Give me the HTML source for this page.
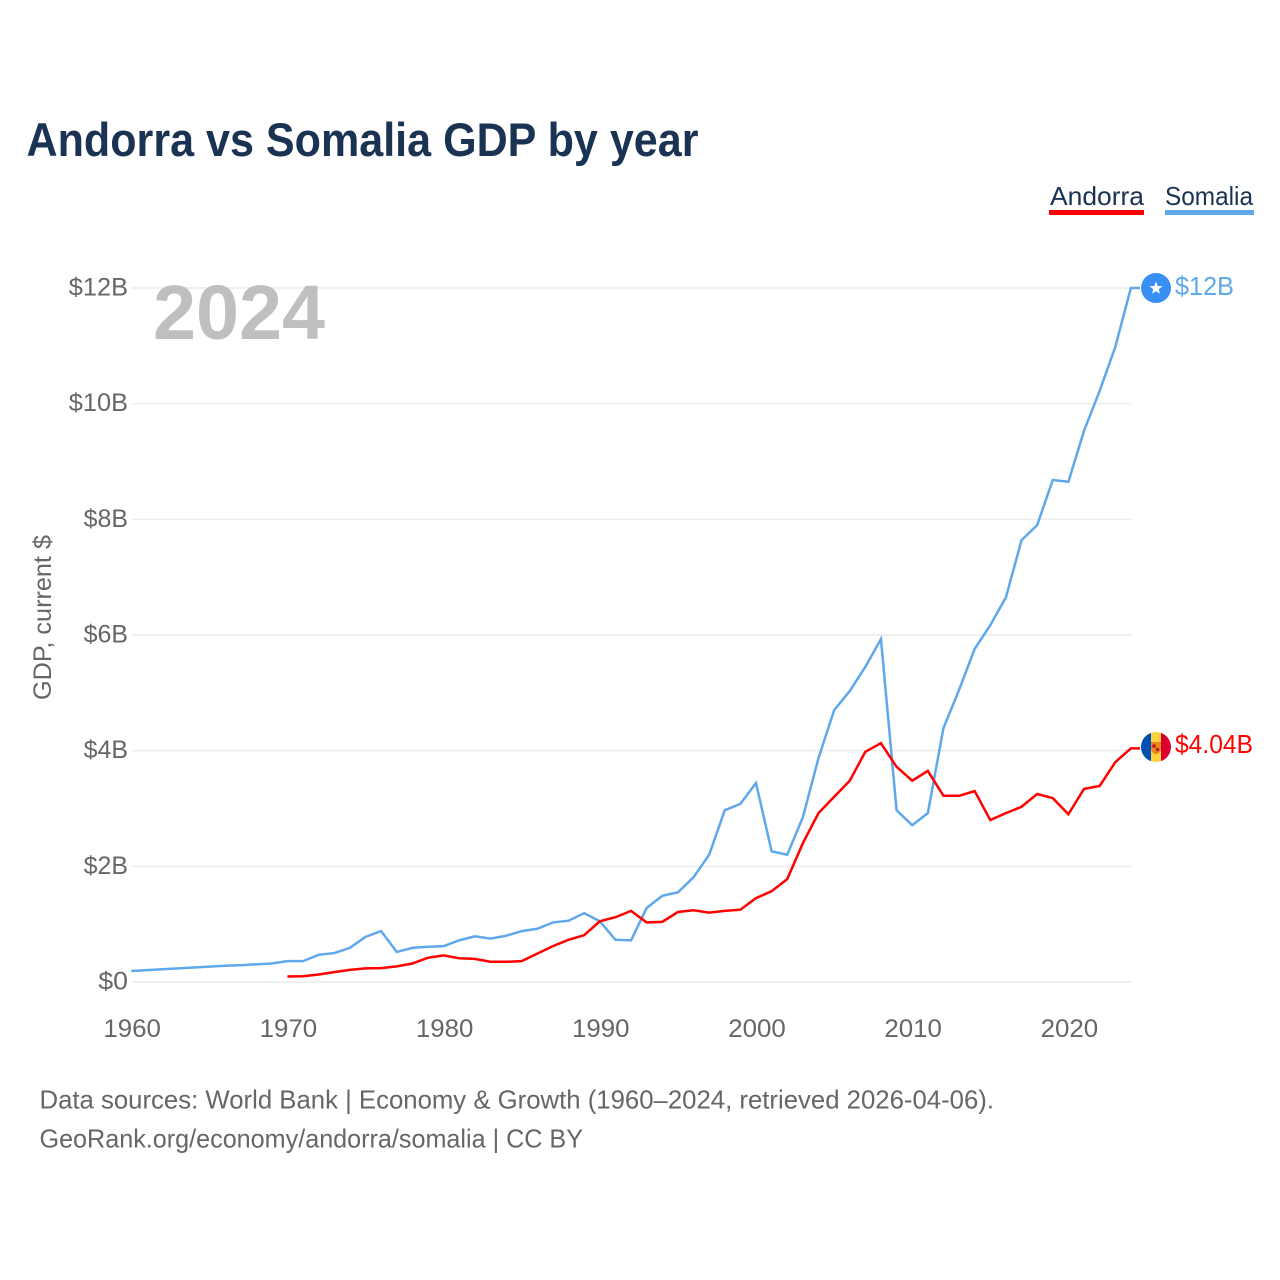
<!DOCTYPE html>
<html lang="en">
<head>
<meta charset="utf-8">
<title>Andorra vs Somalia GDP by year</title>
<style>
  html, body { margin: 0; padding: 0; background: #fff; width: 1280px; height: 1280px; overflow: hidden; }
  svg { display: block; font-family: "Liberation Sans", sans-serif; }
</style>
</head>
<body>
<svg id="chart" xmlns="http://www.w3.org/2000/svg" width="1280" height="1280" viewBox="0 0 1280 1280">
  <defs>
    <clipPath id="flag-clip"><circle cx="1156" cy="747" r="15"></circle></clipPath>
  </defs>
  <text x="26.5" y="156" font-size="47" font-weight="700" fill="#1a3353" textLength="672" lengthAdjust="spacingAndGlyphs">Andorra vs Somalia GDP by year</text>

  <g>
    <g>
      <text x="1050" y="205" font-size="26" fill="#1a3353" textLength="94" lengthAdjust="spacingAndGlyphs">Andorra</text>
      <rect x="1049" y="210" width="95" height="5" fill="#ff0000"></rect>
    </g>
    <g>
      <text x="1165" y="205" font-size="26" fill="#1a3353" textLength="88" lengthAdjust="spacingAndGlyphs">Somalia</text>
      <rect x="1165" y="210" width="89" height="5" fill="#5fa8ec"></rect>
    </g>
  </g>

  <g id="grid"></g>
  <text x="153" y="339" font-size="77" font-weight="700" fill="#bfbfbf" textLength="172" lengthAdjust="spacingAndGlyphs">2024</text>
  <g id="y-ticks"></g>
  <g id="x-ticks"></g>
  <text transform="translate(51,700) rotate(-90)" x="0" y="0" font-size="25" fill="#666666" textLength="165" lengthAdjust="spacingAndGlyphs">GDP, current $</text>

  <g id="series"></g>

  <g>
    <circle cx="1156" cy="288" r="15" fill="#3a8ff2"></circle>
    <polygon fill="#ffffff" points="1156,281.5 1157.7,286 1162.5,286.2 1158.7,289.2 1160,293.8 1156,291.1 1152,293.8 1153.3,289.2 1149.5,286.2 1154.3,286"></polygon>
    <text x="1175" y="295" font-size="26" fill="#5fa8ec" textLength="59" lengthAdjust="spacingAndGlyphs">$12B</text>
  </g>
  <g>
    <g clip-path="url(#flag-clip)">
      <rect x="1141" y="732" width="10" height="30" fill="#0050b4"></rect>
      <rect x="1151" y="732" width="10" height="30" fill="#fcd23f"></rect>
      <rect x="1161" y="732" width="10" height="30" fill="#d9002f"></rect>
      <path d="M1151 742 h10 v7 q0 3.5 -5 5.5 q-5 -2 -5 -5.5z" fill="#e88a1a"></path>
      <circle cx="1154" cy="746" r="1.8" fill="#c8102e"></circle>
      <circle cx="1157.5" cy="749.5" r="1.8" fill="#c8102e"></circle>
    </g>
    <text x="1175" y="753" font-size="26" fill="#ff0000" textLength="78" lengthAdjust="spacingAndGlyphs">$4.04B</text>
  </g>

  <g>
    <text x="39.5" y="1108.5" font-size="26" fill="#666666" textLength="954.5" lengthAdjust="spacingAndGlyphs">Data sources: World Bank | Economy &amp; Growth (1960–2024, retrieved 2026-04-06).</text>
    <text x="39.5" y="1147.5" font-size="26" fill="#666666" textLength="543.5" lengthAdjust="spacingAndGlyphs">GeoRank.org/economy/andorra/somalia | CC BY</text>
  </g>
</svg>
<script>
const startYear = 1960;
const somaliaValues = [0.19,0.205,0.22,0.235,0.25,0.265,0.28,0.29,0.305,0.32,0.36,0.36,0.47,0.50,0.59,0.78,0.88,0.52,0.59,0.61,0.62,0.72,0.79,0.75,0.80,0.88,0.92,1.03,1.06,1.19,1.05,0.73,0.72,1.28,1.49,1.55,1.81,2.20,2.97,3.08,3.44,2.26,2.20,2.85,3.87,4.70,5.03,5.45,5.93,2.97,2.71,2.92,4.39,5.05,5.76,6.17,6.65,7.64,7.90,8.68,8.65,9.53,10.22,10.98,12.0];
const andorraStartYear = 1970;
const andorraValues = [0.095,0.10,0.13,0.17,0.21,0.235,0.24,0.27,0.32,0.42,0.46,0.41,0.40,0.35,0.35,0.36,0.49,0.62,0.73,0.81,1.05,1.12,1.23,1.03,1.04,1.21,1.24,1.20,1.23,1.25,1.45,1.57,1.78,2.40,2.92,3.20,3.48,3.98,4.13,3.72,3.48,3.65,3.22,3.22,3.30,2.80,2.92,3.03,3.25,3.18,2.90,3.34,3.39,3.80,4.04];
const yTickValues = [0,2,4,6,8,10,12];
const yTickLabels = ["$0","$2B","$4B","$6B","$8B","$10B","$12B"];
const xTickValues = [1960,1970,1980,1990,2000,2010,2020];

function xScale(year) { return 131.2 + (year - 1960) * 15.62; }
function yScale(v) { return 982 - v * (694 / 12); }

const svgNS = "http://www.w3.org/2000/svg";
const gridGroup = document.getElementById("grid");
const yGroup = document.getElementById("y-ticks");
const xGroup = document.getElementById("x-ticks");
const seriesGroup = document.getElementById("series");

yTickValues.forEach(function (v, i) {
  const line = document.createElementNS(svgNS, "line");
  line.setAttribute("x1", 132);
  line.setAttribute("x2", 1131);
  line.setAttribute("y1", yScale(v));
  line.setAttribute("y2", yScale(v));
  line.setAttribute("stroke", "#ececec");
  line.setAttribute("stroke-width", 1.5);
  
  
  gridGroup.appendChild(line);

  const label = document.createElementNS(svgNS, "text");
  label.setAttribute("x", 128);
  label.setAttribute("y", yScale(v) + 7.5);
  label.setAttribute("text-anchor", "end");
  label.setAttribute("font-size", 25);
  label.setAttribute("fill", "#666666");
  label.setAttribute("textLength", yTickLabels[i].length * 14.8);
  label.setAttribute("lengthAdjust", "spacingAndGlyphs");
  label.textContent = yTickLabels[i];
  
  
  yGroup.appendChild(label);
});

xTickValues.forEach(function (yr) {
  const label = document.createElementNS(svgNS, "text");
  label.setAttribute("x", xScale(yr) + 1);
  label.setAttribute("y", 1037);
  label.setAttribute("text-anchor", "middle");
  label.setAttribute("font-size", 25);
  label.setAttribute("fill", "#666666");
  label.setAttribute("textLength", 57.5);
  label.setAttribute("lengthAdjust", "spacingAndGlyphs");
  label.textContent = String(yr);
  
  
  xGroup.appendChild(label);
});

function buildPoints(values, firstYear) {
  const pts = values.map(function (v, i) {
    return xScale(firstYear + i).toFixed(2) + "," + yScale(v).toFixed(2);
  });
  const last = values[values.length - 1];
  pts.push("1140," + yScale(last).toFixed(2));
  return pts.join(" ");
}

const somaliaLine = document.createElementNS(svgNS, "polyline");
somaliaLine.setAttribute("points", buildPoints(somaliaValues, startYear));
somaliaLine.setAttribute("fill", "none");
somaliaLine.setAttribute("stroke", "#5fa8ec");
somaliaLine.setAttribute("stroke-width", 2.5);


seriesGroup.appendChild(somaliaLine);

const andorraLine = document.createElementNS(svgNS, "polyline");
andorraLine.setAttribute("points", buildPoints(andorraValues, andorraStartYear));
andorraLine.setAttribute("fill", "none");
andorraLine.setAttribute("stroke", "#ff0000");
andorraLine.setAttribute("stroke-width", 2.5);


seriesGroup.appendChild(andorraLine);
</script>
</body>
</html>
